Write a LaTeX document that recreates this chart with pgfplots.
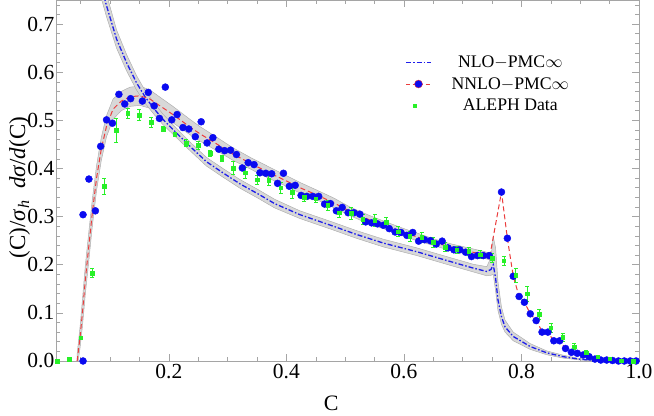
\documentclass[border=0pt]{standalone}
\usepackage{pgfplots}
\pgfplotsset{compat=1.18}
\usepackage{pgfplotstable}
\usepgfplotslibrary{fillbetween}
\usepackage{fontspec}
\setmainfont{Liberation Serif}

\definecolor{dotblue}{RGB}{10,10,240}
\definecolor{nloblue}{RGB}{30,30,235}
\definecolor{nnlored}{RGB}{235,60,60}
\definecolor{alephgreen}{RGB}{40,240,40}
\definecolor{bandfill}{RGB}{216,216,216}
\definecolor{bandedge}{RGB}{172,172,172}
\definecolor{framegray}{RGB}{165,165,165}

\pgfplotstableread{
x y e
0.044 0.000 0.015
0.049 0.050 0.022
0.053 0.100 0.028
0.058 0.170 0.030
0.064 0.240 0.030
0.070 0.310 0.028
0.077 0.380 0.026
0.085 0.440 0.024
0.094 0.488 0.022
0.105 0.523 0.021
0.119 0.540 0.020
0.134 0.549 0.020
0.151 0.551 0.020
0.168 0.544 0.019
0.185 0.530 0.018
0.207 0.512 0.017
0.236 0.486 0.016
0.253 0.472 0.015
0.280 0.452 0.014
0.309 0.430 0.013
0.340 0.410 0.012
0.366 0.394 0.012
0.400 0.374 0.011
0.423 0.360 0.011
0.450 0.346 0.010
0.480 0.329 0.010
0.508 0.311 0.009
0.540 0.294 0.009
0.565 0.283 0.008
0.600 0.267 0.008
0.622 0.258 0.008
0.650 0.247 0.007
0.678 0.237 0.007
0.710 0.228 0.007
0.735 0.221 0.007
0.746 0.217 0.007
}\nnlo

\pgfplotstableread{
x y
0.746 0.217
0.766 0.351
0.776 0.255
0.786 0.176
0.796 0.134
0.805 0.122
0.815 0.098
0.825 0.084
0.835 0.062
0.845 0.058
0.855 0.043
0.865 0.040
0.875 0.027
0.885 0.019
0.895 0.015
0.905 0.012
0.915 0.008
0.925 0.005
0.935 0.003
0.945 0.002
0.960 0.001
0.980 0.000
1.000 0.000
}\nnlotail

\pgfplotstableread{
x y lo hi
0.080 0.800 0.775 0.830
0.094 0.738 0.715 0.762
0.111 0.669 0.650 0.688
0.128 0.620 0.603 0.637
0.145 0.578 0.563 0.593
0.160 0.548 0.535 0.561
0.175 0.524 0.512 0.536
0.190 0.502 0.491 0.513
0.207 0.481 0.471 0.491
0.236 0.446 0.437 0.455
0.264 0.414 0.405 0.423
0.292 0.391 0.382 0.400
0.321 0.368 0.359 0.377
0.352 0.347 0.338 0.356
0.380 0.327 0.318 0.336
0.423 0.304 0.296 0.312
0.480 0.280 0.272 0.288
0.519 0.263 0.255 0.271
0.565 0.245 0.237 0.253
0.622 0.227 0.219 0.235
0.678 0.207 0.199 0.215
0.718 0.193 0.185 0.201
0.741 0.186 0.177 0.196
0.748 0.190 0.178 0.215
0.752 0.200 0.180 0.258
0.756 0.172 0.145 0.235
0.760 0.127 0.105 0.165
0.766 0.092 0.076 0.112
0.772 0.071 0.060 0.085
0.786 0.051 0.042 0.060
0.815 0.030 0.024 0.036
0.843 0.017 0.013 0.021
0.871 0.009 0.006 0.012
0.900 0.0035 0.002 0.005
0.930 0.001 0.000 0.002
0.960 0.000 0.000 0.001
1.000 0.000 0.000 0.000
}\nlo

\pgfplotstableread{
x y
0.054 0.000
0.054 0.304
0.064 0.378
0.075 0.312
0.084 0.446
0.094 0.501
0.104 0.494
0.115 0.554
0.125 0.534
0.135 0.545
0.155 0.540
0.165 0.558
0.175 0.530
0.184 0.504
0.194 0.569
0.205 0.501
0.214 0.512
0.224 0.485
0.234 0.482
0.245 0.466
0.255 0.497
0.265 0.453
0.275 0.464
0.285 0.440
0.295 0.437
0.305 0.438
0.315 0.429
0.325 0.401
0.335 0.412
0.345 0.408
0.355 0.391
0.365 0.390
0.375 0.389
0.385 0.369
0.395 0.390
0.405 0.363
0.415 0.365
0.425 0.344
0.435 0.342
0.445 0.342
0.455 0.342
0.465 0.326
0.475 0.327
0.485 0.312
0.495 0.319
0.505 0.308
0.515 0.308
0.525 0.305
0.535 0.289
0.545 0.287
0.555 0.285
0.565 0.282
0.575 0.275
0.585 0.268
0.595 0.267
0.605 0.261
0.615 0.267
0.625 0.249
0.635 0.252
0.645 0.250
0.655 0.243
0.665 0.249
0.675 0.235
0.685 0.231
0.695 0.231
0.705 0.226
0.715 0.217
0.725 0.219
0.735 0.219
0.745 0.219
0.766 0.351
0.776 0.255
0.786 0.176
0.796 0.134
0.805 0.122
0.815 0.098
0.825 0.084
0.835 0.060
0.845 0.060
0.855 0.042
0.865 0.042
0.875 0.026
0.885 0.018
0.895 0.016
0.905 0.0125
0.915 0.009
0.925 0.004
0.935 0.002
0.945 0.002
0.955 0.001
0.965 0.000
0.975 0.000
0.985 0.000
0.995 0.000
}\nnlopts

\pgfplotstableread{
x y e
0.01 0.000 0.001
0.03 0.0035 0.001
0.05 0.048 0.003
0.07 0.183 0.010
0.09 0.363 0.017
0.11 0.480 0.025
0.13 0.515 0.010
0.15 0.511 0.011
0.17 0.496 0.011
0.19 0.482 0.005
0.21 0.471 0.005
0.23 0.453 0.007
0.25 0.448 0.008
0.27 0.432 0.006
0.29 0.421 0.006
0.31 0.401 0.013
0.33 0.391 0.011
0.35 0.377 0.009
0.37 0.376 0.010
0.39 0.360 0.012
0.41 0.351 0.013
0.43 0.340 0.008
0.45 0.337 0.008
0.47 0.324 0.010
0.49 0.308 0.010
0.51 0.307 0.012
0.53 0.295 0.010
0.55 0.292 0.012
0.57 0.288 0.010
0.59 0.269 0.010
0.61 0.259 0.010
0.63 0.257 0.010
0.65 0.247 0.010
0.67 0.237 0.010
0.69 0.231 0.008
0.71 0.228 0.008
0.73 0.221 0.008
0.75 0.214 0.009
0.77 0.208 0.010
0.79 0.178 0.015
0.81 0.140 0.015
0.83 0.097 0.010
0.85 0.069 0.010
0.87 0.049 0.008
0.89 0.030 0.006
0.91 0.017 0.005
0.93 0.009 0.003
0.95 0.005 0.002
0.97 0.001 0.001
0.99 0.000 0.001
}\alephdata

\begin{document}
\begin{tikzpicture}
\begin{axis}[
  scale only axis, width=583pt, height=361pt,
  xmin=0.008, xmax=1.0, ymin=0, ymax=0.75,
  xtick={0.2,0.4,0.6,0.8,1.0},
  ytick={0,0.1,0.2,0.3,0.4,0.5,0.6,0.7},
  minor xtick={0.05,0.1,0.15,0.25,0.3,0.35,0.45,0.5,0.55,0.65,0.7,0.75,0.85,0.9,0.95},
  minor ytick={0.02,0.04,0.06,0.08,0.12,0.14,0.16,0.18,0.22,0.24,0.26,0.28,0.32,0.34,0.36,0.38,0.42,0.44,0.46,0.48,0.52,0.54,0.56,0.58,0.62,0.64,0.66,0.68,0.72,0.74},
  tick align=inside, major tick length=7pt, minor tick length=4pt,
  axis line style={framegray, line width=0.6pt},
  every tick/.style={framegray, line width=0.5pt},
  /pgf/number format/assume math mode=true,
  /pgf/number format/fixed, /pgf/number format/precision=1, /pgf/number format/fixed zerofill,
  ticklabel style={font=\fontsize{21.5}{24}\selectfont, black},
  yticklabel style={inner xsep=1.5pt},
  every axis x label/.style={at={(axis description cs:0.472,0)}, anchor=base, yshift=-50pt},
  every axis y label/.style={at={(axis description cs:-0.053,0.48)}, rotate=90, anchor=base},
  xlabel={\fontsize{22}{24}\selectfont C},
  ylabel={\fontsize{23}{26}\selectfont (C)/\textit{σ}\kern1pt\raisebox{-4pt}{\fontsize{16}{18}\selectfont\textit{h}}\ \ \textit{dσ}/\textit{d}(C)},
  legend style={draw=none, fill=none, at={(axis cs:0.597,0.643)}, anchor=north west,
    font=\fontsize{17.7}{20}\selectfont, cells={anchor=center}, row sep=4.5pt, column sep=18pt},
  clip=true,
]
% NNLO band
\addplot[name path=nnU, draw=none, forget plot] table[x=x, y expr=\thisrow{y}+\thisrow{e}] {\nnlo};
\addplot[name path=nnL, draw=none, forget plot] table[x=x, y expr=\thisrow{y}-\thisrow{e}] {\nnlo};
\addplot[fill=bandfill, draw=bandedge, line width=0.45pt, forget plot] fill between[of=nnU and nnL];
% NLO band
\addplot[name path=nlU, draw=none, forget plot] table[x=x, y=hi] {\nlo};
\addplot[name path=nlL, draw=none, forget plot] table[x=x, y=lo] {\nlo};
\addplot[fill=bandfill, draw=bandedge, line width=0.45pt, forget plot] fill between[of=nlU and nlL];
% NLO line
\addplot[nloblue, line width=1.3pt, dash pattern=on 5pt off 2pt on 1.5pt off 2pt,
  legend image code/.code={\draw[nloblue, line width=1.3pt, dash pattern=on 5pt off 2pt on 1.5pt off 2pt] (0pt,0pt)--(25pt,0pt);}]
  table[x=x, y=y] {\nlo};
\addlegendentry{NLO$-$PMC$\infty$}
% NNLO line
\addplot[nnlored, line width=1pt, dash pattern=on 5pt off 3pt, forget plot] table[x=x, y=y] {\nnlo};
\addplot[nnlored, line width=1pt, dash pattern=on 5pt off 3pt, forget plot] table[x=x, y=y] {\nnlotail};
% NNLO points
\addplot[nnlored, only marks, mark=*, mark size=3.5pt, mark options={fill=dotblue, draw=dotblue, solid},
  legend image code/.code={\draw[draw=nnlored, line width=1pt, dash pattern=on 4pt off 2.5pt] (0pt,0pt)--(25pt,0pt); \fill[fill=dotblue] (12.5pt,0pt) circle (4pt);}]
  table[x=x, y=y] {\nnlopts};
\addlegendentry{NNLO$-$PMC$\infty$}
% ALEPH data
\addplot[only marks, mark=square*, mark size=1.8pt, color=alephgreen,
  error bars/.cd, y dir=both, y explicit,
  error bar style={line width=0.6pt, alephgreen},
  error mark options={rotate=90, mark size=2pt, line width=0.6pt, alephgreen}]
  table[x=x, y=y, y error=e] {\alephdata};
\addlegendimage{legend image code/.code={\path (0pt,0pt)--(25pt,0pt); \fill[alephgreen] (8.5pt,-3.5pt) rectangle (15.5pt,3.5pt);}}
\addlegendentry{ALEPH Data}
\end{axis}
\pgfresetboundingbox
\path[use as bounding box] ([xshift=-56pt,yshift=-55pt]current axis.south west) rectangle ([xshift=15pt]current axis.north east);
\end{tikzpicture}
\end{document}
